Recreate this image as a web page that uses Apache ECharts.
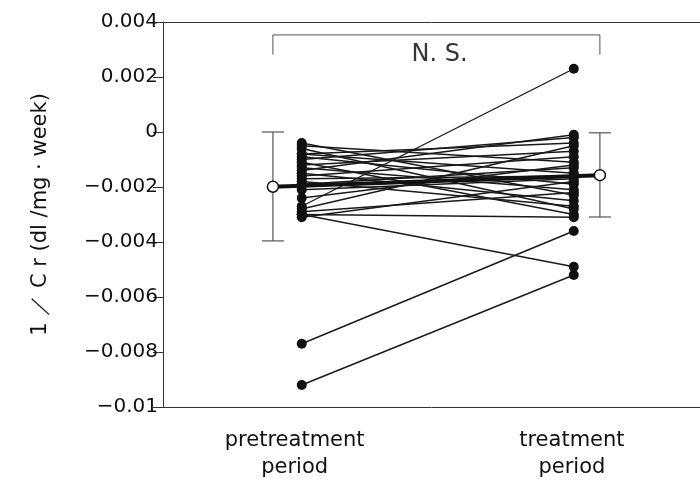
<!DOCTYPE html>
<html>
<head>
<meta charset="utf-8">
<script src="https://cdn.jsdelivr.net/npm/echarts@6/dist/echarts.min.js"></script>
<style>html,body{margin:0;padding:0;background:#fff}#c{width:700px;height:481px}</style>
</head>
<body>
<div id="c"></div>
<script>
// Categories and label positions (x scale: pretreatment = 1, treatment = 2)
const categories = ['pretreatment\nperiod', 'treatment\nperiod'];
const categoryLabelX = [0.974, 1.993];
// Paired individual values
const preVals = [-0.0027, -0.0077, -0.0092, -0.0030, -0.0004, -0.0005, -0.0006, -0.0008, -0.0009, -0.0010,
                 -0.0011, -0.0012, -0.0013, -0.0014, -0.0015, -0.0016, -0.0017, -0.0018, -0.0019, -0.0021,
                 -0.0024, -0.0028, -0.0029, -0.0030, -0.0031, -0.0008];
const treatVals = [0.0023, -0.0036, -0.0052, -0.0049, -0.0023, -0.0011, -0.0028, -0.0004, -0.0019, -0.0002,
                   -0.0030, -0.0007, -0.0021, -0.0001, -0.0025, -0.0009, -0.0016, -0.0027, -0.0013, -0.0017,
                   -0.0012, -0.0005, -0.0022, -0.0031, -0.0018, -0.0015];
// Means with error bars (mean ± SD)
const meanX = [0.894, 2.096];
const meanVals = [-0.00199, -0.00157];
const errLow = [-0.00396, -0.00309];
const errHigh = [0.0000, -0.00003];
// Significance bracket
const bracketX = [0.894, 2.096];
const bracketY = 0.00353;
const bracketFootY = 0.00281;
const sigText = 'N. S.';
const sigPos = [1.507, 0.00280];
// Y ticks
const yMin = -0.01, yMax = 0.004, yInterval = 0.002;

const ink = '#111';
const FONT = 'DejaVu Sans';
const series = [];

preVals.forEach((p, i) => {
  series.push({
    type: 'line', silent: true, animation: false, z: 3,
    data: [[1, p], [2, treatVals[i]]],
    symbol: 'circle', symbolSize: 10,
    itemStyle: {color: ink},
    lineStyle: {color: '#1a1a1a', width: 1.4}
  });
});

// mean line
series.push({
  type: 'line', silent: true, animation: false, z: 4,
  data: meanX.map((x, i) => [x, meanVals[i]]),
  symbol: 'circle', symbolSize: 11,
  itemStyle: {color: '#fff', borderColor: ink, borderWidth: 1.5},
  lineStyle: {color: ink, width: 4}
});
// error bars
series.push({
  type: 'custom', silent: true, animation: false, z: 2,
  data: meanX.map((x, i) => [x, errLow[i], errHigh[i]]),
  renderItem: function (params, api) {
    const x = api.value(0);
    const lo = api.coord([x, api.value(1)]);
    const hi = api.coord([x, api.value(2)]);
    const w = 11;
    const st = {stroke: '#555', lineWidth: 1.2};
    return {
      type: 'group',
      children: [
        {type: 'line', shape: {x1: hi[0], y1: hi[1], x2: lo[0], y2: lo[1]}, style: st},
        {type: 'line', shape: {x1: hi[0] - w, y1: hi[1], x2: hi[0] + w, y2: hi[1]}, style: st},
        {type: 'line', shape: {x1: lo[0] - w, y1: lo[1], x2: lo[0] + w, y2: lo[1]}, style: st}
      ]
    };
  }
});
// bracket
series.push({
  type: 'line', silent: true, animation: false, z: 2,
  data: [[bracketX[0], bracketFootY], [bracketX[0], bracketY], [bracketX[1], bracketY], [bracketX[1], bracketFootY]],
  symbol: 'none',
  lineStyle: {color: '#555', width: 1}
});
// N.S. text
series.push({
  type: 'scatter', silent: true, animation: false, z: 5,
  data: [sigPos], symbolSize: 0,
  itemStyle: {color: ink},
  label: {show: true, position: 'inside', formatter: sigText, fontFamily: FONT, fontSize: 24, color: '#000', textBorderWidth: 0}
});

function fmtY(v) {
  if (Math.abs(v) < 1e-12) return '0';
  let s = String(Number(v.toFixed(4)));
  return s.replace('-', '\u2212');
}

const chart = echarts.init(document.getElementById('c'), null, {renderer: 'canvas'});
chart.setOption({
  backgroundColor: '#fff',
  animation: false,
  grid: {left: 163, right: 0, top: 22, bottom: 70, containLabel: false},
  xAxis: [{
    type: 'value', min: 0.49, max: 2.464, position: 'bottom',
    splitLine: {show: false}, axisTick: {show: false},
    axisLine: {show: true, onZero: false, lineStyle: {color: '#333', width: 1}},
    axisLabel: {
      show: true, customValues: categoryLabelX, margin: 20,
      fontFamily: FONT, fontSize: 21, color: ink, lineHeight: 27,
      formatter: function (v) { return v < 1.5 ? categories[0] : categories[1]; }
    }
  }, {
    type: 'value', min: 0.49, max: 2.464, position: 'top',
    splitLine: {show: false}, axisTick: {show: false}, axisLabel: {show: false},
    axisLine: {show: true, onZero: false, lineStyle: {color: '#333', width: 1}}
  }],
  yAxis: {
    type: 'value', min: yMin, max: yMax, interval: yInterval,
    splitLine: {show: false},
    axisLine: {show: true, lineStyle: {color: '#333', width: 1}},
    axisTick: {show: true, length: 10, lineStyle: {color: '#333'}},
    axisLabel: {margin: 5, fontFamily: FONT, fontSize: 20, color: ink, formatter: fmtY},
    name: '1 ／ C r (dl /mg · week)',
    nameLocation: 'middle', nameGap: 112, nameRotate: 90,
    nameTextStyle: {fontFamily: FONT, fontSize: 21, color: ink}
  },
  series: series
});
</script>
</body>
</html>
